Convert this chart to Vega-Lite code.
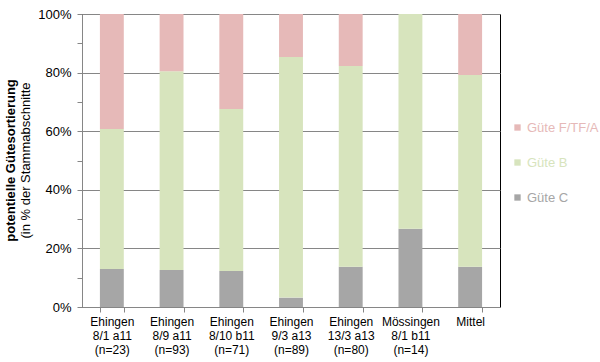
{
  "$schema": "https://vega.github.io/schema/vega-lite/v6.json",
  "width": 418,
  "height": 293,
  "autosize": {"type": "none"},
  "padding": {"left": 82, "top": 14, "right": 100, "bottom": 55},
  "background": "white",
  "config": {
    "font": "Liberation Sans",
    "view": {"stroke": "black", "strokeWidth": 1}
  },
  "title": {
    "text": "potentielle Gütesortierung",
    "subtitle": "(in % der Stammabschnitte",
    "orient": "left",
    "anchor": "middle",
    "fontSize": 13,
    "fontWeight": "bold",
    "color": "black",
    "subtitleFontSize": 13,
    "subtitleColor": "black",
    "subtitlePadding": 2,
    "offset": 5
  },
  "data": {
    "values": [
      {"ort": "Ehingen|8/1 a11|(n=23)", "guete": "Güte C", "k": 1, "anteil": 13.0},
      {"ort": "Ehingen|8/1 a11|(n=23)", "guete": "Güte B", "k": 2, "anteil": 47.75},
      {"ort": "Ehingen|8/1 a11|(n=23)", "guete": "Güte F/TF/A", "k": 3, "anteil": 39.25},
      {"ort": "Ehingen|8/9 a11|(n=93)", "guete": "Güte C", "k": 1, "anteil": 12.6},
      {"ort": "Ehingen|8/9 a11|(n=93)", "guete": "Güte B", "k": 2, "anteil": 67.9},
      {"ort": "Ehingen|8/9 a11|(n=93)", "guete": "Güte F/TF/A", "k": 3, "anteil": 19.5},
      {"ort": "Ehingen|8/10 b11|(n=71)", "guete": "Güte C", "k": 1, "anteil": 12.3},
      {"ort": "Ehingen|8/10 b11|(n=71)", "guete": "Güte B", "k": 2, "anteil": 55.3},
      {"ort": "Ehingen|8/10 b11|(n=71)", "guete": "Güte F/TF/A", "k": 3, "anteil": 32.4},
      {"ort": "Ehingen|9/3 a13|(n=89)", "guete": "Güte C", "k": 1, "anteil": 3.2},
      {"ort": "Ehingen|9/3 a13|(n=89)", "guete": "Güte B", "k": 2, "anteil": 82.1},
      {"ort": "Ehingen|9/3 a13|(n=89)", "guete": "Güte F/TF/A", "k": 3, "anteil": 14.7},
      {"ort": "Ehingen|13/3 a13|(n=80)", "guete": "Güte C", "k": 1, "anteil": 13.75},
      {"ort": "Ehingen|13/3 a13|(n=80)", "guete": "Güte B", "k": 2, "anteil": 68.5},
      {"ort": "Ehingen|13/3 a13|(n=80)", "guete": "Güte F/TF/A", "k": 3, "anteil": 17.75},
      {"ort": "Mössingen|8/1 b11|(n=14)", "guete": "Güte C", "k": 1, "anteil": 26.7},
      {"ort": "Mössingen|8/1 b11|(n=14)", "guete": "Güte B", "k": 2, "anteil": 73.3},
      {"ort": "Mössingen|8/1 b11|(n=14)", "guete": "Güte F/TF/A", "k": 3, "anteil": 0},
      {"ort": "Mittel", "guete": "Güte C", "k": 1, "anteil": 13.75},
      {"ort": "Mittel", "guete": "Güte B", "k": 2, "anteil": 65.45},
      {"ort": "Mittel", "guete": "Güte F/TF/A", "k": 3, "anteil": 20.8}
    ]
  },
  "mark": {"type": "bar"},
  "encoding": {
    "x": {
      "field": "ort",
      "type": "nominal",
      "sort": null,
      "scale": {"paddingInner": 0.6, "paddingOuter": 0.3},
      "axis": {
        "title": null,
        "labelAngle": 0,
        "labelExpr": "isString(datum.value) ? split(datum.value, '|') : ''",
        "labelFontSize": 12,
        "labelLineHeight": 14,
        "labelColor": "black",
        "labelPadding": 4,
        "labelBaseline": "top",
        "tickBand": "extent",
        "tickSize": 5,
        "tickColor": "#868686",
        "domainColor": "#868686",
        "grid": false
      }
    },
    "y": {
      "field": "anteil",
      "type": "quantitative",
      "stack": "normalize",
      "scale": {"domain": [0, 1], "nice": false},
      "axis": {
        "title": null,
        "values": [0, 0.1, 0.2, 0.3, 0.4, 0.5, 0.6, 0.7, 0.8, 0.9, 1],
        "labelExpr": "round(datum.value*10) % 2 == 1 ? '' : format(datum.value, '.0%')",
        "labelFontSize": 13,
        "labelColor": "black",
        "labelPadding": 6,
        "tickSize": 5,
        "tickColor": "#868686",
        "domainColor": "#868686",
        "grid": true,
        "gridColor": "#868686",
        "gridOpacity": {"condition": {"test": "round(datum.value*10) % 2 == 1", "value": 0}, "value": 1}
      }
    },
    "color": {
      "field": "guete",
      "type": "nominal",
      "scale": {
        "domain": ["Güte F/TF/A", "Güte B", "Güte C"],
        "range": ["#E6B9B8", "#D7E4BD", "#A6A6A6"]
      },
      "legend": {
        "title": null,
        "orient": "none",
        "legendX": 429,
        "legendY": 107,
        "padding": 0,
        "symbolType": "square",
        "symbolSize": 40,
        "symbolStrokeWidth": 0,
        "labelFontSize": 13,
        "labelOffset": 3,
        "rowPadding": 21,
        "encode": {
          "labels": {"update": {"fill": {"scale": "color", "field": "value"}}}
        }
      }
    },
    "order": {"field": "k", "type": "quantitative"}
  }
}
